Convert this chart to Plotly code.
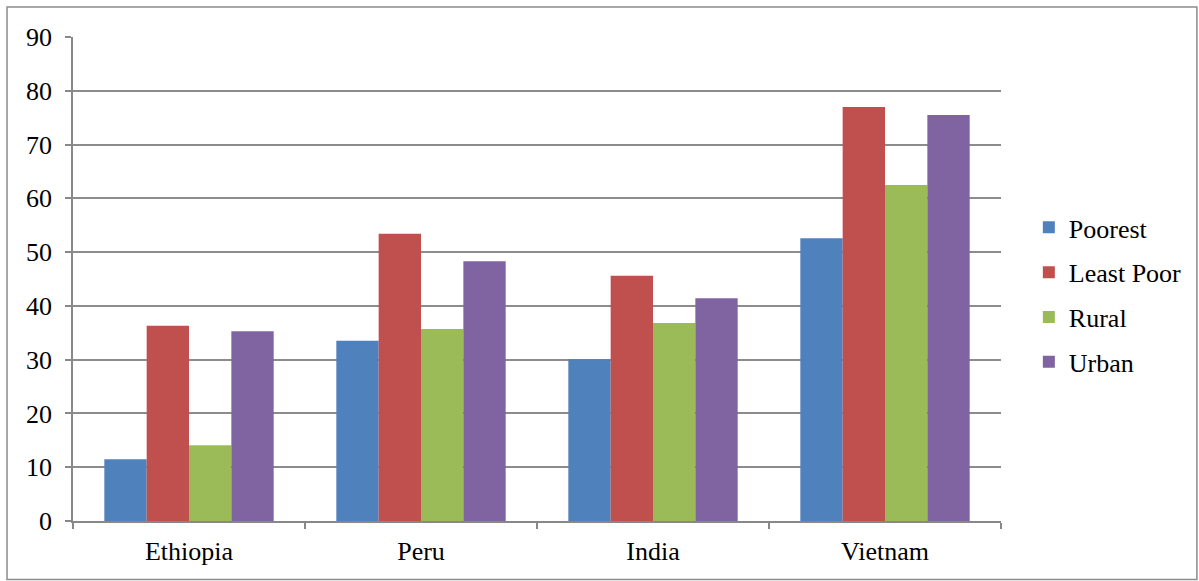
import plotly.graph_objects as go

categories = ["Ethiopia", "Peru", "India", "Vietnam"]
series_names = ["Poorest", "Least Poor", "Rural", "Urban"]
poorest = [11.5, 33.5, 30.1, 52.6]
least_poor = [36.3, 53.4, 45.6, 77.0]
rural = [14.1, 35.7, 36.8, 62.5]
urban = [35.3, 48.3, 41.4, 75.5]
y_ticks = [0, 10, 20, 30, 40, 50, 60, 70, 80, 90]

colors = ["#4F81BD", "#C0504D", "#9BBB59", "#8064A2"]
values = [poorest, least_poor, rural, urban]

fig = go.Figure()
for name, vals, col in zip(series_names, values, colors):
    fig.add_trace(go.Bar(
        x=categories, y=vals, name=name, legendgroup=name,
        marker=dict(color=col, line=dict(width=0)),
    ))

font = "Liberation Serif, Times New Roman, serif"
fs = 26
fig.update_layout(
    width=1199, height=581,
    margin=dict(l=73, r=198, t=37, b=60),
    paper_bgcolor="white", plot_bgcolor="white",
    barmode="group", bargap=0.27, bargroupgap=0,
    font=dict(family=font, size=fs, color="black"),
    showlegend=True,
    legend=dict(
        x=1.030, y=0.467, xanchor="left", yanchor="middle",
        font=dict(family=font, size=fs, color="black"),
        traceorder="grouped", tracegroupgap=8,
        itemclick=False,
    ),
    xaxis=dict(
        type="category", showgrid=False, showline=True,
        linecolor="#888888", linewidth=1.5,
        ticks="outside", tickson="boundaries", ticklen=6,
        tickcolor="#888888", tickwidth=1.5,
        ticklabelstandoff=6,
        tickfont=dict(family=font, size=fs, color="black"),
    ),
    yaxis=dict(
        range=[0, 90], tickvals=y_ticks, showgrid=True,
        gridcolor="#8c8c8c", gridwidth=1.5,
        showline=True, linecolor="#888888", linewidth=1.5,
        ticks="outside", ticklen=6, tickcolor="#888888", tickwidth=1.5,
        ticklabelstandoff=8,
        tickfont=dict(family=font, size=fs, color="black"),
        zeroline=False,
    ),
    shapes=[dict(
        type="rect", xref="paper", yref="paper",
        x0=-0.0711, x1=1.2111, y0=-0.121, y1=1.062,
        line=dict(color="#8c8c8c", width=1.5), fillcolor="rgba(0,0,0,0)",
        layer="below",
    )],
)

fig.write_html(
    "out.html",
    config={"displayModeBar": False},
    post_script="document.body.style.margin='0';document.body.style.overflow='hidden';",
)
